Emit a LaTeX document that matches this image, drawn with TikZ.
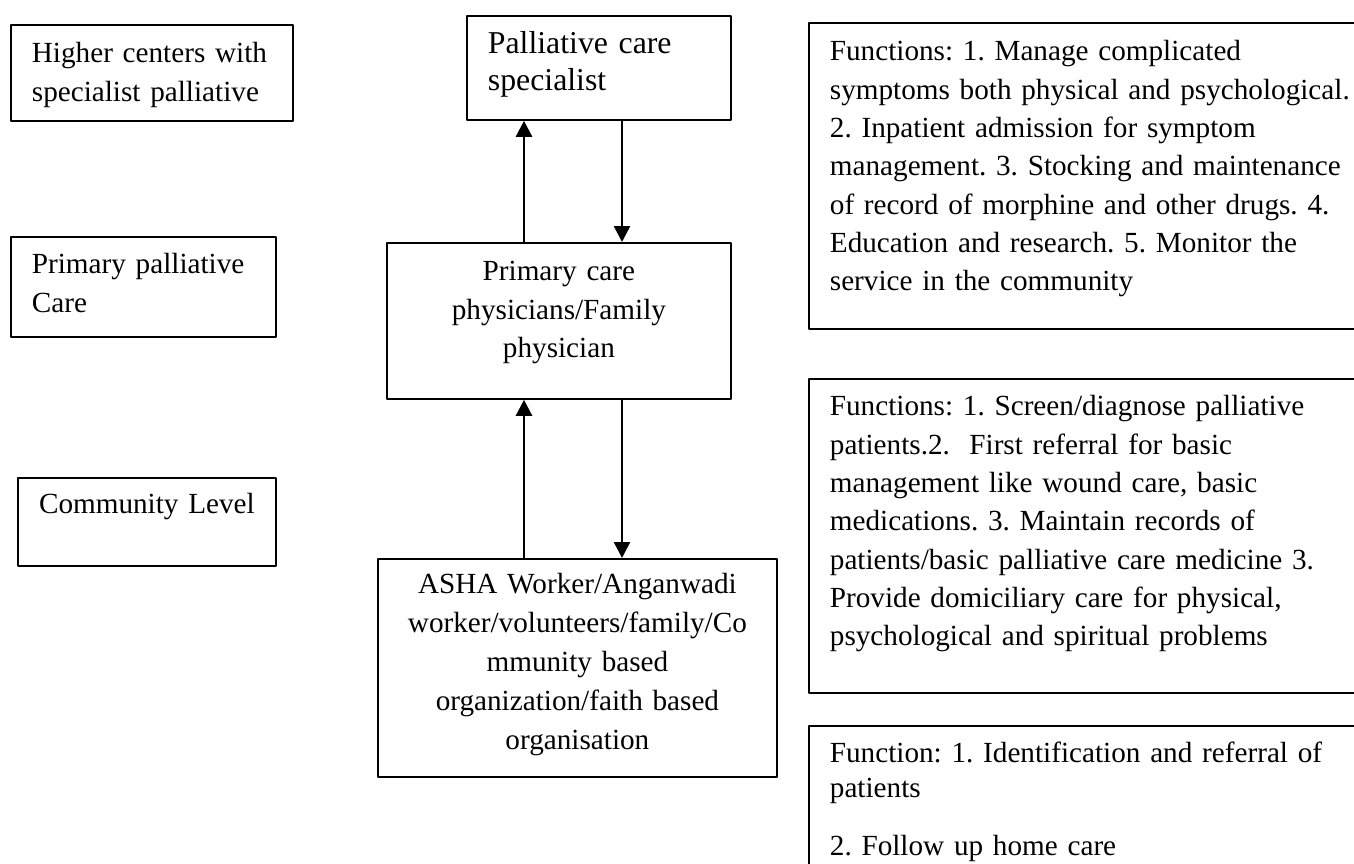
\documentclass[tikz,border=0pt]{standalone}
\usepackage{fontspec}
\setmainfont{Liberation Serif}
\usetikzlibrary{arrows.meta}
\frenchspacing
\begin{document}
\begin{tikzpicture}[x=1pt, y=-1pt, line join=round, >={Triangle[length=16pt,width=16pt]},
 font=\fontsize{29.2}{38.3}\selectfont,
 tierbox/.style={draw, line width=1.8pt, anchor=north west, inner ysep=0pt, inner xsep=21pt, align=left},
 staffbox/.style={tierbox, inner xsep=10pt, align=center},
 dutybox/.style={tierbox, text width=560pt}]
 \def\W{1354}\def\H{863}
 \fill[white] (0,0) rectangle (\W,\H);
 \useasboundingbox (0,0) rectangle (\W,\H);
 \clip (0,0) rectangle (\W,\H);
 % levels on the left
 \node[tierbox, text width=240pt, text height=38pt, text depth=58pt] (higher) at (10,24) {Higher centers with\\ specialist palliative};
 \node[tierbox, text width=223pt, text height=37pt, text depth=63pt] (primpal) at (10,236) {Primary palliative\\ Care};
 \node[staffbox, text width=238pt, text height=36pt, text depth=52pt] (community) at (17,477) {Community Level};
 % who does the work
 \node[tierbox, text width=222pt, text height=38pt, text depth=66pt, font=\fontsize{31.8}{37}\selectfont] (specialist) at (466,15) {Palliative care\\ specialist};
 \node[staffbox, text width=324pt, text height=38pt, text depth=118pt] (primary) at (386,242) {Primary care\\ physicians/Family\\ physician};
 \node[staffbox, text width=379pt, text height=35pt, text depth=183pt, font=\fontsize{29.2}{38.8}\selectfont] (asha) at (377,558) {ASHA Worker/Anganwadi\\ worker/volunteers/family/Co\\ mmunity based\\ organization/faith based\\ organisation};
 % referrals up and down
 \coordinate (up) at (524,0);
 \coordinate (down) at (622,0);
 \draw[->, line width=2.5pt] (primary.north -| up) -- (specialist.south -| up);
 \draw[->, line width=2.5pt] (specialist.south -| down) -- (primary.north -| down);
 \draw[->, line width=2.5pt] (asha.north -| up) -- (primary.south -| up);
 \draw[->, line width=2.5pt] (primary.south -| down) -- (asha.north -| down);
 % functions on the right
 \node[dutybox, text height=38pt, text depth=268pt] (fnspec) at (808,22) {Functions: 1. Manage complicated\\ symptoms both physical and psychological.\\ 2. Inpatient admission for symptom\\ management. 3. Stocking and maintenance\\ of record of morphine and other drugs. 4.\\ Education and research. 5. Monitor the\\ service in the community};
 \node[dutybox, text height=37pt, text depth=277pt] (fnprim) at (808,378) {Functions: 1. Screen/diagnose palliative\\ patients.2.\ \ First referral for basic\\ management like wound care, basic\\ medications. 3. Maintain records of\\ patients/basic palliative care medicine 3.\\ Provide domiciliary care for physical,\\ psychological and spiritual problems};
 \node[dutybox, text height=37pt, text depth=200pt, font=\fontsize{29.2}{35}\selectfont] (fncomm) at (808,725) {Function: 1. Identification and referral of\\ patients\\[23pt] 2. Follow up home care};
\end{tikzpicture}
\end{document}
